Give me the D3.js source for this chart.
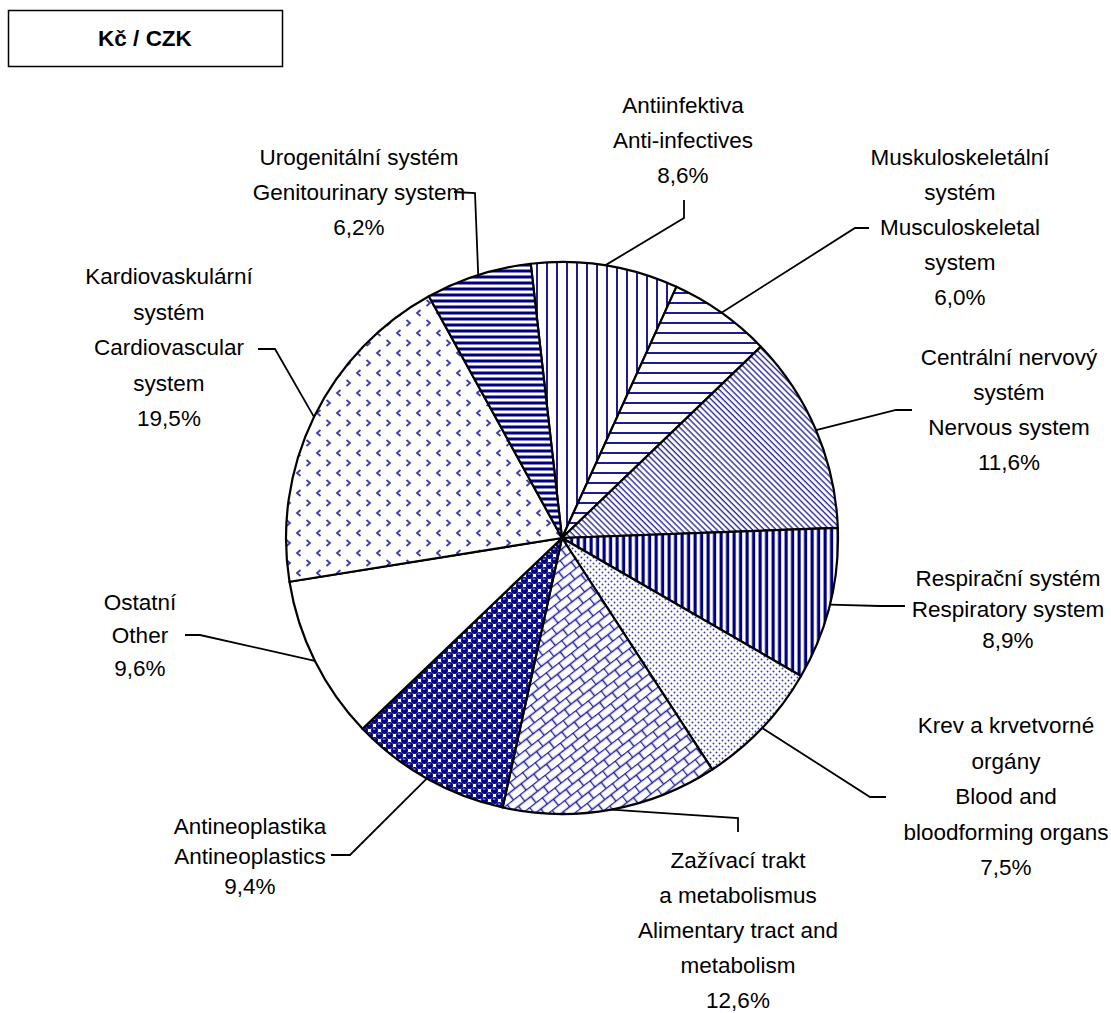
<!DOCTYPE html>
<html>
<head>
<meta charset="utf-8">
<script src="https://cdn.jsdelivr.net/npm/d3@7"></script>
<style>
  body { margin: 0; background: #fff; }
  text { font-family: "Liberation Sans", Arial, sans-serif; fill: #000; }
</style>
</head>
<body>
<div id="chart"></div>
<script>
var width = 1111;
var height = 1013;

// data
var namesCz = [["Antiinfektiva"], ["Muskuloskeletální", "systém"], ["Centrální nervový", "systém"],
    ["Respirační systém"], ["Krev a krvetvorné", "orgány"], ["Zažívací trakt", "a metabolismus"],
    ["Antineoplastika"], ["Ostatní"], ["Kardiovaskulární", "systém"], ["Urogenitální systém"]];
var namesEn = [["Anti-infectives"], ["Musculoskeletal", "system"], ["Nervous system"],
    ["Respiratory system"], ["Blood and", "bloodforming organs"], ["Alimentary tract and", "metabolism"],
    ["Antineoplastics"], ["Other"], ["Cardiovascular", "system"], ["Genitourinary system"]];
var shares = [8.6, 6.0, 11.6, 8.9, 7.5, 12.6, 9.4, 9.6, 19.5, 6.2];
var patternIds = ["vthin", "hthin", "diag", "vthick", "dots", "brick", "balls", "none", "chev", "hthick"];

// label layout: text centre x, first line y, line step, leader elbow + end
var labelPos = [
    {x: 683, y: 113, dy: 35, elbow: [684, 218], end: [684, 200]},
    {x: 960, y: 165, dy: 35, elbow: [855, 228], end: [869, 228]},
    {x: 1009, y: 365, dy: 35, elbow: [896, 410], end: [912, 410]},
    {x: 1008, y: 586, dy: 31, elbow: [880, 606], end: [905, 606]},
    {x: 1006, y: 733, dy: 35.5, elbow: [870, 797], end: [886, 797]},
    {x: 738, y: 868, dy: 35, elbow: [738, 818], end: [738, 832]},
    {x: 250, y: 834, dy: 30, elbow: [350, 855], end: [331, 855]},
    {x: 140, y: 610, dy: 33, elbow: [200, 635], end: [185, 635]},
    {x: 169, y: 284, dy: 35.5, elbow: [275, 349], end: [258, 349]},
    {x: 359, y: 165, dy: 35, elbow: [475, 193], end: [454, 192]}
];

var navy = "#000080";
var cx = 562, cy = 538, r = 276;
var startDeg = -6.5;

var svg = d3.select("#chart")
    .append("svg")
    .attr("width", width)
    .attr("height", height);

var defs = svg.append("defs");

function pat(id, w, h, rot) {
    var p = defs.append("pattern")
        .attr("id", id)
        .attr("patternUnits", "userSpaceOnUse")
        .attr("width", w)
        .attr("height", h);
    if (rot) p.attr("patternTransform", "rotate(" + rot + ")");
    p.append("rect").attr("width", w).attr("height", h).attr("fill", "#fff");
    return p;
}

// thin vertical lines
pat("vthin", 10, 10).append("rect").attr("x", 4).attr("width", 2).attr("height", 10).attr("fill", "#1c1c90");
// thin horizontal lines
pat("hthin", 10, 10).append("rect").attr("y", 4).attr("width", 10).attr("height", 2).attr("fill", "#1c1c90");
// dense diagonal
pat("diag", 4.2, 4.2, -45).append("rect").attr("x", 1.2).attr("width", 1.4).attr("height", 4.2).attr("fill", "#2a2a9c");
// thick vertical
pat("vthick", 6.5, 10).append("rect").attr("x", 1.5).attr("width", 3.2).attr("height", 10).attr("fill", navy);
// thick horizontal
pat("hthick", 10, 6).append("rect").attr("y", 1.5).attr("width", 10).attr("height", 3).attr("fill", navy);
// dots
var pd = pat("dots", 6, 6);
pd.append("circle").attr("cx", 1.5).attr("cy", 1.5).attr("r", 0.95).attr("fill", "#3a3aa8");
pd.append("circle").attr("cx", 4.5).attr("cy", 4.5).attr("r", 0.95).attr("fill", "#3a3aa8");
// bricks
var pb = pat("brick", 16, 16, -38);
pb.append("path")
    .attr("d", "M0,0.5H16M0,8.5H16M0.5,0V8.5M8.5,8.5V16")
    .attr("stroke", "#2020a0").attr("stroke-width", 1.5).attr("fill", "none");
// spheres
var pball = pat("balls", 10, 10);
[[2.5, 2.5], [7.5, 7.5], [-2.5, 7.5], [12.5, 2.5], [7.5, -2.5], [2.5, 12.5]].forEach(function(c) {
    pball.append("circle").attr("cx", c[0]).attr("cy", c[1]).attr("r", 3.5).attr("fill", navy);
    pball.append("path")
        .attr("d", "M" + (c[0] - 1.6) + "," + (c[1] - 1.4) + "h2.4")
        .attr("stroke", "#c8c8ee").attr("stroke-width", 1);
});
// white
pat("none", 10, 10);
// chevrons
var pc = pat("chev", 20, 20);
pc.append("path").attr("d", "M4.5,2L8,5L4.5,8").attr("stroke", "#3c3cb0").attr("stroke-width", 1.8).attr("fill", "none");
pc.append("path").attr("d", "M18.5,12L15,15L18.5,18").attr("stroke", "#3c3cb0").attr("stroke-width", 1.8).attr("fill", "none");

var pie = d3.pie()
    .sort(null)
    .value(function(d) { return d; })
    .startAngle(startDeg * Math.PI / 180)
    .endAngle((startDeg + 360) * Math.PI / 180);

var arc = d3.arc().innerRadius(0).outerRadius(r);
var arcs = pie(shares);

var g = svg.append("g").attr("transform", "translate(" + cx + "," + cy + ")");

g.selectAll("path.slice")
    .data(arcs)
    .enter()
    .append("path")
    .attr("class", "slice")
    .attr("d", arc)
    .attr("fill", function(d, i) { return "url(#" + patternIds[i] + ")"; })
    .attr("stroke", "#000")
    .attr("stroke-width", 2.2)
    .attr("stroke-linejoin", "round");

// leader lines
var fmt = function(v) { return v.toFixed(1).replace(".", ",") + "%"; };

arcs.forEach(function(d, i) {
    var a = (d.startAngle + d.endAngle) / 2;
    var sx = cx + r * Math.sin(a), sy = cy - r * Math.cos(a);
    var L = labelPos[i];
    svg.append("polyline")
        .attr("points", [[sx, sy], L.elbow, L.end].map(function(p) { return p.join(","); }).join(" "))
        .attr("fill", "none")
        .attr("stroke", "#000")
        .attr("stroke-width", 1.8);

    var lines = namesCz[i].concat(namesEn[i]).concat([fmt(shares[i])]);
    var t = svg.append("text")
        .attr("text-anchor", "middle")
        .attr("font-size", 22.5);
    lines.forEach(function(s, k) {
        t.append("tspan").attr("x", L.x).attr("y", L.y + k * L.dy).text(s);
    });
});

// title box
svg.append("rect")
    .attr("x", 8.5).attr("y", 10.5).attr("width", 274).attr("height", 56)
    .attr("fill", "#fff").attr("stroke", "#000").attr("stroke-width", 1.5);
svg.append("text")
    .attr("x", 145).attr("y", 46)
    .attr("text-anchor", "middle")
    .attr("font-size", 22.5)
    .attr("font-weight", "bold")
    .text("Kč / CZK");
</script>
</body>
</html>
